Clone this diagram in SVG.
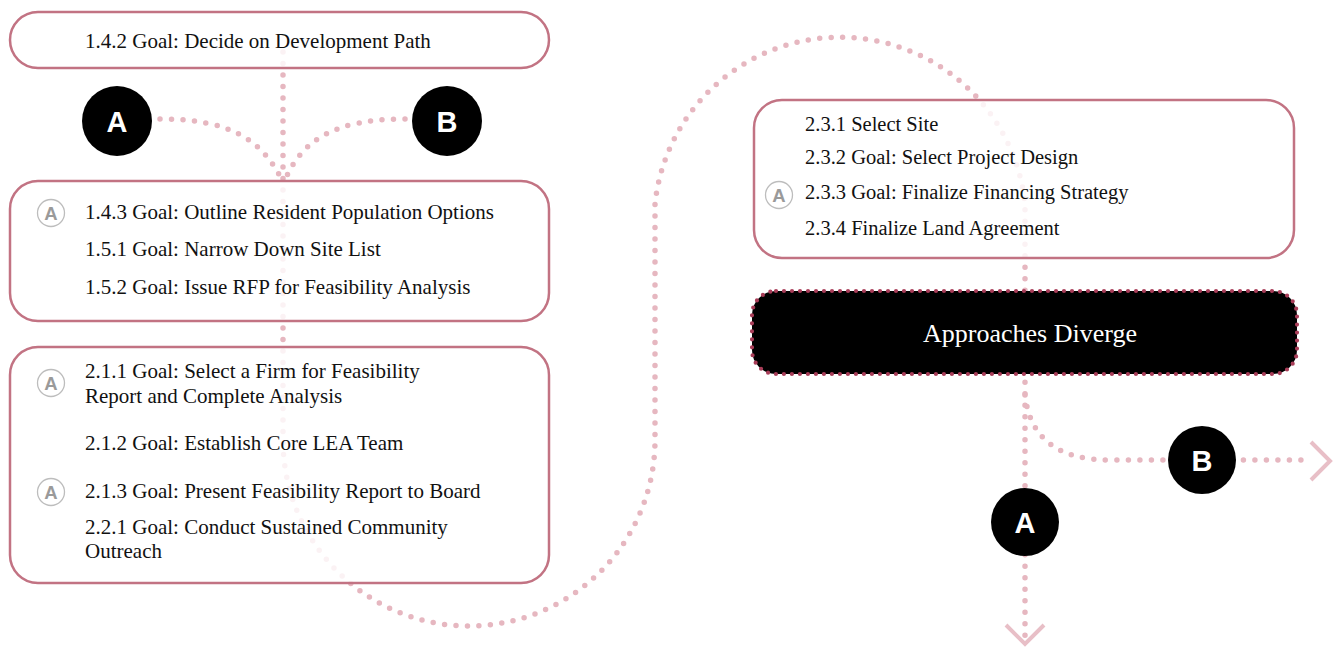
<svg xmlns="http://www.w3.org/2000/svg" width="1334" height="647" viewBox="0 0 1334 647">
<style>
.conn{fill:none;stroke:#e6b7c0;stroke-width:5.5;stroke-linecap:round;stroke-dasharray:0 11.5}
.chev{fill:none;stroke:#e8bfc7;stroke-width:4}
.box{fill:#ffffff;fill-opacity:0.82;stroke:#c27383;stroke-width:2.5}
.t{font-family:"Liberation Serif","Times New Roman",serif;font-size:21px;fill:#111}
.t2{font-family:"Liberation Serif","Times New Roman",serif;font-size:20.5px;fill:#111}
.dark{fill:#000;stroke:#a83d58;stroke-width:4.2;stroke-linecap:round;stroke-dasharray:0 8}
.dt{font-family:"Liberation Serif","Times New Roman",serif;font-size:26px;fill:#fff;text-anchor:middle}
.bc{fill:#000}
.bl{font-family:"Liberation Sans",Arial,sans-serif;font-weight:bold;font-size:29px;fill:#fff;text-anchor:middle}
.sb{fill:#fff;stroke:#bdbdbd;stroke-width:1.3}
.sl{font-family:"Liberation Sans",Arial,sans-serif;font-weight:bold;font-size:18.5px;fill:#9a9a9a;text-anchor:middle}
</style>
<g id="connectors">
<path class="conn" d="M283,52 V440 A186,186 0 0 0 655,440 V204 A186,186 0 0 1 1025,204 V640"/>
<path class="conn" d="M160,119 C230,119 262,140 282,180"/>
<path class="conn" d="M405,119 C335,119 302,140 285,180"/>
<path class="conn" d="M1025,395 C1030,440 1060,460 1110,460 H1306"/>
<polyline class="chev" points="1311,442 1330,461 1311,480"/>
<polyline class="chev" points="1006,625 1025,644 1044,625"/>
</g>
<g id="node-142">
<rect class="box" x="10" y="12" width="539" height="56" rx="28"/>
<text class="t" x="85" y="48">1.4.2 Goal: Decide on Development Path</text>
</g>
<g id="node-A-top">
<circle class="bc" cx="117" cy="121" r="35"/>
<text class="bl" x="117" y="131.5">A</text>
</g>
<g id="node-B-top">
<circle class="bc" cx="447" cy="121" r="35"/>
<text class="bl" x="447" y="131.5">B</text>
</g>
<g id="node-143">
<rect class="box" x="10" y="181" width="539" height="140" rx="28"/>
<circle class="sb" cx="51" cy="213" r="13.5"/>
<text class="sl" x="51" y="219.8">A</text>
<text class="t" x="85" y="219">1.4.3 Goal: Outline Resident Population Options</text>
<text class="t" x="85" y="256">1.5.1 Goal: Narrow Down Site List</text>
<text class="t" x="85" y="294">1.5.2 Goal: Issue RFP for Feasibility Analysis</text>
</g>
<g id="node-211">
<rect class="box" x="10" y="347" width="539" height="236" rx="28"/>
<circle class="sb" cx="51" cy="383" r="13.5"/>
<text class="sl" x="51" y="389.8">A</text>
<circle class="sb" cx="51" cy="492" r="13.5"/>
<text class="sl" x="51" y="498.8">A</text>
<text class="t" x="85" y="378">2.1.1 Goal: Select a Firm for Feasibility</text>
<text class="t" x="85" y="403">Report and Complete Analysis</text>
<text class="t" x="85" y="450">2.1.2 Goal: Establish Core LEA Team</text>
<text class="t" x="85" y="498">2.1.3 Goal: Present Feasibility Report to Board</text>
<text class="t" x="85" y="534">2.2.1 Goal: Conduct Sustained Community</text>
<text class="t" x="85" y="558">Outreach</text>
</g>
<g id="node-231">
<rect class="box" x="754" y="100" width="540" height="158" rx="28"/>
<text class="t2" x="805" y="131">2.3.1 Select Site</text>
<text class="t2" x="805" y="164">2.3.2 Goal: Select Project Design</text>
<circle class="sb" cx="779" cy="195" r="13.5"/>
<text class="sl" x="779" y="201.8">A</text>
<text class="t2" x="805" y="199">2.3.3 Goal: Finalize Financing Strategy</text>
<text class="t2" x="805" y="235">2.3.4 Finalize Land Agreement</text>
</g>
<g id="node-diverge">
<rect class="dark" x="752" y="291" width="545" height="83" rx="24"/>
<text class="dt" x="1030" y="342">Approaches Diverge</text>
</g>
<g id="node-A-bottom">
<circle class="bc" cx="1025" cy="522" r="34"/>
<text class="bl" x="1025" y="532.5">A</text>
</g>
<g id="node-B-right">
<circle class="bc" cx="1202" cy="460" r="34"/>
<text class="bl" x="1202" y="470.5">B</text>
</g>
</svg>
